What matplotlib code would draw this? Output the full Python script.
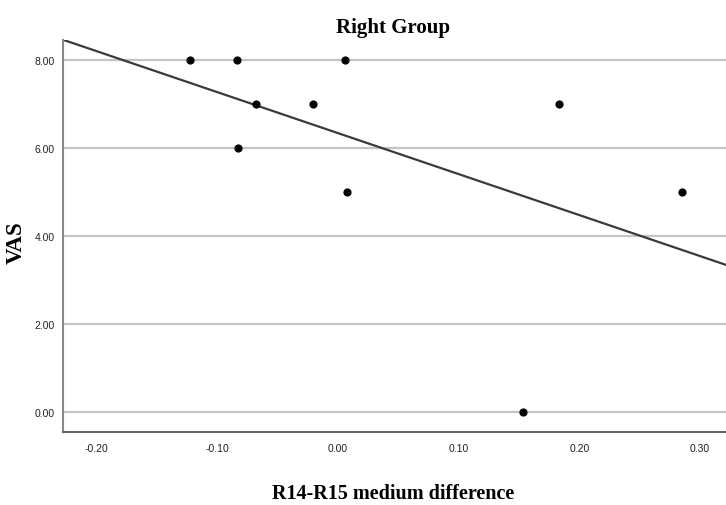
import numpy as np
import matplotlib
matplotlib.use("Agg")
import matplotlib.pyplot as plt

# Data
diff = [-0.123, -0.084, 0.006, -0.068, -0.021, -0.083, 0.0075, 0.183, 0.285, 0.153]
vas = [8, 8, 8, 7, 7, 6, 5, 7, 5, 0]
xticks = [-0.20, -0.10, 0.00, 0.10, 0.20, 0.30]
yticks = [0, 2, 4, 6, 8]

fig = plt.figure(figsize=(7.26, 5.06), dpi=100)
ax = fig.add_axes([63/726, 1-433/506, 1-63/726, (433-41)/506])

xlim = (-0.228, 0.3216)
ylim = (-0.455, 8.455)
ax.set_xlim(*xlim)
ax.set_ylim(*ylim)

for yv in yticks:
    ax.axhline(yv, color="#c4c4c4", lw=1.6, zorder=1)

slope, intercept = np.polyfit(diff, vas, 1)
xs = np.array(xlim)
ax.plot(xs, slope*xs + intercept, color="#3a3a3a", lw=1.6, zorder=2)

ax.scatter(diff, vas, s=24, color="black", zorder=3)

ax.set_xticks(xticks)
ax.set_xticklabels([f"{v:.2f}" for v in xticks])
ax.set_yticks(yticks)
ax.set_yticklabels([f"{v:.2f}" for v in yticks])
ax.tick_params(axis="both", length=0, labelsize=7.5, colors="#222222")
ax.tick_params(axis="x", pad=8)
ax.tick_params(axis="y", pad=6)
for lab in ax.get_xticklabels() + ax.get_yticklabels():
    lab.set_family("Liberation Sans")

for s in ["top", "right"]:
    ax.spines[s].set_visible(False)
ax.spines["left"].set_color("#8a8a80")
ax.spines["bottom"].set_color("#666666")
for s in ["left", "bottom"]:
    ax.spines[s].set_linewidth(1.5)

fig.text(393/726, 1-28/506, "Right Group", ha="center", va="center",
         family="Liberation Serif", fontweight="bold", fontsize=15)
fig.text(393/726, 1-494/506, "R14-R15 medium difference", ha="center", va="center",
         family="Liberation Serif", fontweight="bold", fontsize=14.5)
fig.text(16/726, 1-243/506, "VAS", ha="center", va="center", rotation=90,
         family="Liberation Serif", fontweight="bold", fontsize=16.5)

fig.savefig("out.png", dpi=100)
